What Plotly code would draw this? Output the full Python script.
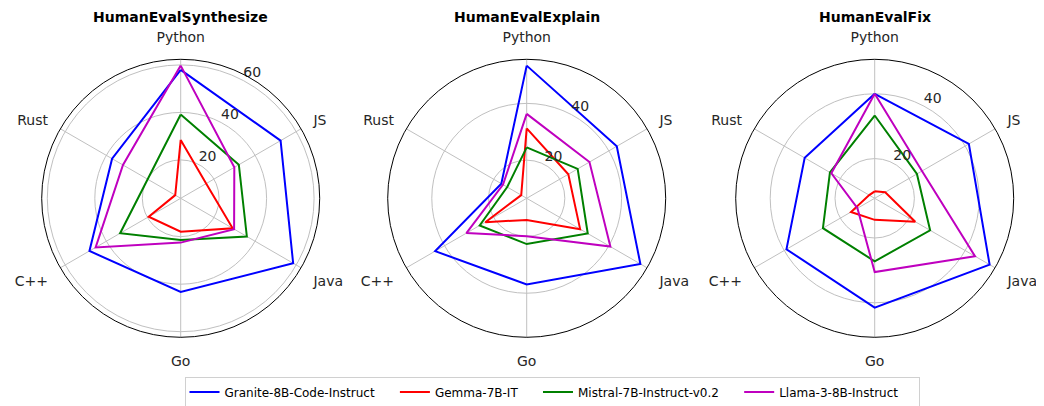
import plotly.graph_objects as go

categories = ["Python", "JS", "Java", "Go", "C++", "Rust"]
models = ["Granite-8B-Code-Instruct", "Gemma-7B-IT", "Mistral-7B-Instruct-v0.2", "Llama-3-8B-Instruct"]
colors = ["#0000ff", "#ff0000", "#008000", "#bf00bf"]
titles = ["HumanEvalSynthesize", "HumanEvalExplain", "HumanEvalFix"]

synthesize = {
    "Granite-8B-Code-Instruct": [57.9, 52.4, 58.5, 43.3, 48.2, 37.2],
    "Gemma-7B-IT": [28.4, 16.2, 29.1, 17.9, 19.4, 6.5],
    "Mistral-7B-Instruct-v0.2": [39.1, 32.1, 36.0, 21.4, 33.3, 19.9],
    "Llama-3-8B-Instruct": [59.7, 29.9, 29.8, 22.5, 45.2, 31.9],
}
explain = {
    "Granite-8B-Code-Instruct": [53.3, 43.2, 52.8, 36.9, 43.8, 16.9],
    "Gemma-7B-IT": [31.2, 23.5, 28.3, 14.2, 23.4, 8.8],
    "Mistral-7B-Instruct-v0.2": [24.5, 27.3, 31.4, 22.7, 25.7, 14.5],
    "Llama-3-8B-Instruct": [36.3, 32.1, 40.6, 19.9, 31.1, 16.2],
}
fix = {
    "Granite-8B-Code-Instruct": [40.0, 41.3, 48.7, 41.5, 39.2, 32.7],
    "Gemma-7B-IT": [9.9, 11.5, 22.2, 14.4, 16.2, 9.7],
    "Mistral-7B-Instruct-v0.2": [33.3, 22.8, 27.5, 27.2, 26.2, 23.7],
    "Llama-3-8B-Instruct": [40.0, 24.6, 43.5, 30.5, 13.9, 23.2],
}
datasets = [synthesize, explain, fix]
radial_ticks = [[20, 40, 60], [20, 40], [20, 40]]

# page body has an 8px default margin: layout positions are given in figure pixels
W, H = 1044, 406
OFF = 8
centers_x = [180.7 - OFF, 526.7 - OFF, 874.7 - OFF]
center_y = 198.3 - OFF
R = 139
PAD = "\u00a0" * 4  # visual spacing after legend labels
LABEL_ANGLE = 28  # degrees clockwise from Python for radial tick labels

angles = [k * 360 / len(categories) for k in range(len(categories))]

fig = go.Figure()
layout_polars = {}
for i, data in enumerate(datasets):
    pname = "polar" if i == 0 else f"polar{i+1}"
    allv = [v for vals in data.values() for v in vals]
    lo, hi = min(allv), max(allv)
    span = hi - lo
    rng = [lo - 0.05 * span, hi + 0.05 * span]
    for m, c in zip(models, colors):
        vals = data[m]
        fig.add_trace(go.Scatterpolar(
            r=vals + vals[:1],
            theta=angles + angles[:1],
            mode="lines",
            line=dict(color=c, width=2),
            name=m + PAD,
            showlegend=(i == 0),
            legendgroup=m,
            subplot=pname,
            hoverinfo="skip",
        ))
    # radial tick labels, placed by the polar scale itself
    ticks = radial_ticks[i]
    fig.add_trace(go.Scatterpolar(
        r=ticks, theta=[LABEL_ANGLE] * len(ticks),
        mode="text", text=[str(t) for t in ticks],
        textposition="top right",
        textfont=dict(family="DejaVu Sans", size=14, color="#262626"),
        showlegend=False, subplot=pname, hoverinfo="skip",
    ))
    cx = centers_x[i]
    layout_polars[pname] = dict(
        domain=dict(x=[(cx - R) / W, (cx + R) / W],
                    y=[(H - center_y - R) / H, (H - center_y + R) / H]),
        bgcolor="white",
        radialaxis=dict(
            range=rng, tickvals=ticks, showline=False, ticks="",
            showticklabels=False,
            gridcolor="#c0c0c0", gridwidth=1,
        ),
        angularaxis=dict(
            type="linear", thetaunit="degrees",
            tickmode="array", tickvals=angles, ticktext=categories,
            rotation=90, direction="clockwise",
            showline=True, linecolor="black", linewidth=1,
            gridcolor="#c0c0c0", gridwidth=1,
            ticks="outside", ticklen=11, tickcolor="rgba(0,0,0,0)",
            tickfont=dict(family="DejaVu Sans", size=14, color="#262626"),
        ),
    )
    fig.add_annotation(
        x=cx / W, y=(H - (17 - OFF)) / H, xref="paper", yref="paper",
        text=f"<b>{titles[i]}</b>", showarrow=False,
        font=dict(family="DejaVu Sans", size=14, color="black"),
        xanchor="center", yanchor="middle",
    )

fig.update_layout(
    width=W, height=H,
    margin=dict(l=0, r=0, t=0, b=0, autoexpand=False),
    paper_bgcolor="white",
    plot_bgcolor="white",
    showlegend=True,
    legend=dict(
        orientation="h", x=(552 - OFF) / W, xanchor="center",
        y=(H - (392 - OFF)) / H, yanchor="middle",
        bordercolor="#d0d0d0", borderwidth=1,
        font=dict(family="DejaVu Sans", size=12, color="black"),
    ),
    **layout_polars,
)

fig.write_html("out.html")
